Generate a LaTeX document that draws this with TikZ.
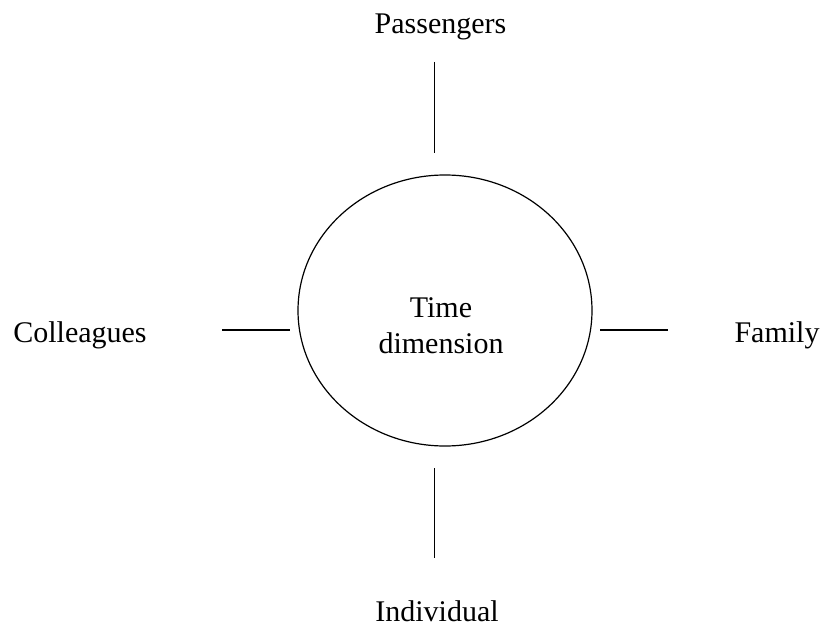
\documentclass[tikz,border=0pt]{standalone}
\usepackage{fontspec}
\setmainfont{Liberation Serif}
\usetikzlibrary{shapes.geometric}

\begin{document}
\begin{tikzpicture}[x=1pt, y=-1pt, line width=1.2pt, main/.style = {draw, ellipse, inner sep=0pt},
		lab/.style = {font=\fontsize{30}{36}\selectfont, anchor=base, inner sep=0pt}]
		\useasboundingbox (0,0) rectangle (822,626);
		\node[main, minimum width=294pt, minimum height=271pt] (t) at (445,310.5) {};
		\node[lab, align=center] (tt) at (441,353) {Time\\dimension};
		\node[lab] (p) at (440.5,34) {Passengers};
		\node[lab] (c) at (80,342) {Colleagues};
		\node[lab] (f) at (777,342) {Family};
		\node[lab] (i) at (437,621) {Individual};
		\coordinate (p1) at (434.7,62);
		\coordinate (p2) at (434.7,153);
		\coordinate (i1) at (434.7,468);
		\coordinate (i2) at (434.7,558);
		\coordinate (c1) at (222,330);
		\coordinate (c2) at (290,330);
		\coordinate (f1) at (600,330);
		\coordinate (f2) at (668,330);
		\draw (p1) -- (p2);
		\draw (i1) -- (i2);
		\draw (c1) -- (c2);
		\draw (f1) -- (f2);
	\end{tikzpicture}
\end{document}
